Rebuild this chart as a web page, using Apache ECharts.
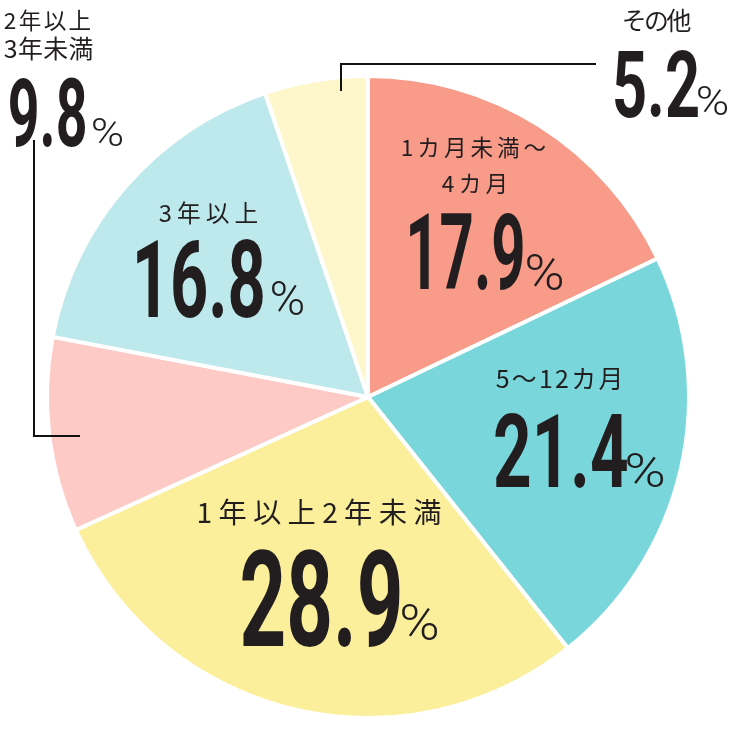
<!DOCTYPE html>
<html><head><meta charset="utf-8">
<script src="https://cdn.jsdelivr.net/npm/echarts@6/dist/echarts.min.js"></script>
<style>html,body{margin:0;padding:0;background:#fff}#c{width:750px;height:732px}</style>
</head><body><div id="c"></div>
<script>
// ---- data ----
const categories = ['1カ月未満～4カ月', '5～12カ月', '1年以上2年未満', '2年以上3年未満', '3年以上', 'その他'];
const values = [17.9, 21.4, 28.9, 9.8, 16.8, 5.2];
const labelLines = [['1カ月未満～', '4カ月'], ['5～12カ月'], ['1年以上2年未満'], ['2年以上', '3年未満'], ['3年以上'], ['その他']];
const colors = ['#f89b89', '#79d7db', '#fcef9b', '#fdcac5', '#bde9ed', '#fdf7cb'];

// ---- layout (ink boxes of label parts) ----
const lineBoxes = [
  [{x0:402,x1:545,y0:137,y1:157},{x0:443,x1:507,y0:173,y1:193}],
  [{x0:497,x1:622,y0:368,y1:390}],
  [{x0:198,x1:440,y0:500,y1:525}],
  [{x0:5,x1:90,y0:10,y1:30},{x0:5,x1:92,y0:38,y1:60}],
  [{x0:160,x1:257,y0:202,y1:223}],
  [{x0:623,x1:690,y0:10,y1:32}]
];
const numBoxes = [
  {x0:410,x1:523,y0:212,y1:290},
  {x0:495,x1:627,y0:412,y1:488},
  {x0:242,x1:400,y0:548,y1:647},
  {x0:10,x1:85,y0:77,y1:147},
  {x0:137,x1:263,y0:238,y1:318},
  {x0:615,x1:698,y0:50,y1:118}
];
const pctBoxes = [
  {x0:527,x1:562,y0:253,y1:290},
  {x0:627,x1:663,y0:452,y1:487},
  {x0:402,x1:437,y0:603,y1:640},
  {x0:93,x1:122,y0:117,y1:146},
  {x0:272,x1:303,y0:280,y1:315},
  {x0:698,x1:727,y0:85,y1:115}
];
const leaders = {
  3: [[34,140],[34,436],[80,436]],
  5: [[341,91],[341,64],[596,64]]
};

const TXT = '#221e1f';
const CJK = "'Noto Sans CJK JP'";
const NUM = 'Roboto';
const ctx = document.createElement('canvas').getContext('2d');
function measure(str, fs, family, weight) {
  ctx.font = weight + ' ' + fs + 'px ' + family;
  ctx.textBaseline = 'middle';
  return ctx.measureText(str);
}
const st = (t, fs, family, weight) => ({text: t, fontSize: fs, fontFamily: family, fontWeight: weight, fill: TXT, textAlign: 'left', textVerticalAlign: 'middle'});
function scaledText(str, b, family, weight) {
  const m = measure(str, 100, family, weight);
  const inkH = m.actualBoundingBoxAscent + m.actualBoundingBoxDescent;
  const fs = 100 * (b.y1 - b.y0) / inkH;
  const k = fs / 100;
  const y = b.y0 + m.actualBoundingBoxAscent * k;
  const L = m.actualBoundingBoxLeft * k, R = m.actualBoundingBoxRight * k;
  const s = (b.x1 - b.x0) / (L + R);
  return [{type: 'text', x: b.x0 + s * L, y: y, scaleX: s, style: st(str, fs, family, weight), z: 10}];
}
function spacedText(str, b) {
  const fs = (b.y1 - b.y0) * 1.13;
  const bear = fs * 0.05;
  const chars = Array.from(str);
  const adv = chars.map(ch => measure(ch, fs, CJK, 'normal').width);
  const total = adv.reduce((a, c) => a + c, 0) - 2 * bear;
  const sp = chars.length > 1 ? (b.x1 - b.x0 - total) / (chars.length - 1) : 0;
  let x = b.x0 - bear;
  const y = (b.y0 + b.y1) / 2;
  return chars.map((ch, i) => {
    const el = {type: 'text', x: x, y: y, style: st(ch, fs, CJK, 'normal'), z: 10};
    x += adv[i] + sp;
    return el;
  });
}

const graphics = [];
values.forEach((v, i) => {
  labelLines[i].forEach((ln, j) => graphics.push(...spacedText(ln, lineBoxes[i][j])));
  graphics.push(...scaledText(v.toFixed(1), numBoxes[i], NUM, 'bold'));
  graphics.push(...scaledText('%', pctBoxes[i], NUM, '300'));
  if (leaders[i]) {
    graphics.push({type: 'polyline', shape: {points: leaders[i]}, style: {stroke: '#111', lineWidth: 2, fill: null}, z: 10});
  }
});

const chart = echarts.init(document.getElementById('c'), null, {renderer: 'canvas'});
chart.setOption({
  backgroundColor: '#ffffff',
  animation: false,
  series: [{
    type: 'pie',
    center: [368, 397],
    radius: [0, 321],
    startAngle: 90,
    clockwise: true,
    label: {show: false},
    labelLine: {show: false},
    itemStyle: {borderColor: '#ffffff', borderWidth: 4},
    emphasis: {disabled: true},
    data: categories.map((c, i) => ({name: c, value: values[i], itemStyle: {color: colors[i]}}))
  }],
  graphic: graphics
});
</script>
</body></html>
